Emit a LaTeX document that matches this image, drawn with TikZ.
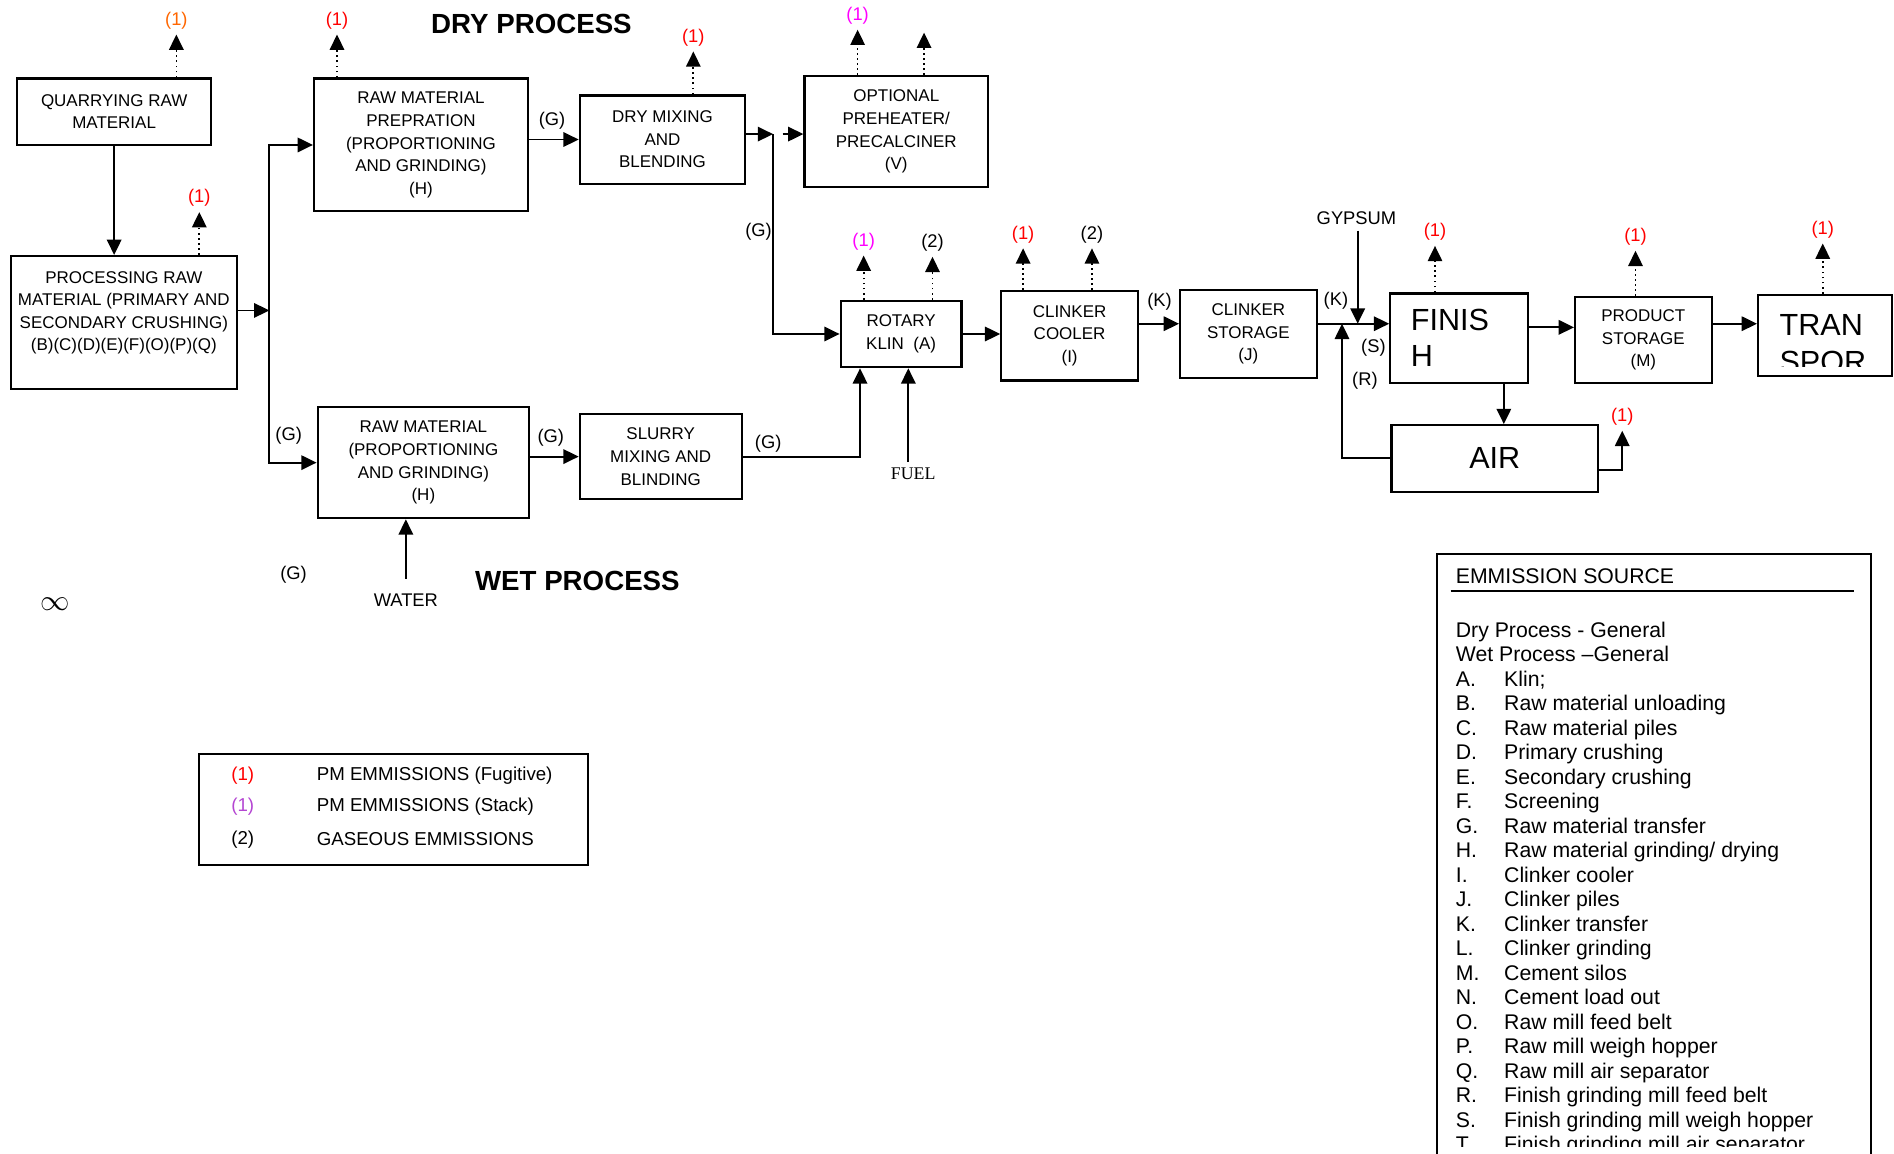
\documentclass[tikz,border=0pt]{standalone}
\usepackage{fontspec}
\setmainfont{Liberation Sans}
\newfontfamily\timesfont{Liberation Serif}
\usetikzlibrary{arrows.meta,calc}
\newcommand{\unitpx}{0.025cm}
\definecolor{fugitive}{RGB}{255,0,0}
\definecolor{quarryor}{RGB}{255,102,0}
\definecolor{stack}{RGB}{255,0,255}
\definecolor{stacklg}{RGB}{180,70,210}
\tikzset{
  box/.style={draw,line width=1.3pt,align=center,inner sep=2pt,font=\fontsize{10}{13.3}\selectfont},
  bigtext/.style={font=\fontsize{18}{21.3}\selectfont},
  lbl/.style={inner sep=3pt,font=\fontsize{10.8}{13}\selectfont},
  heading/.style={inner sep=0pt,font=\fontsize{16.3}{19}\selectfont\bfseries},
  flow/.style={line width=1.1pt,-{Triangle[length=9pt,width=8.5pt]}},
  emit/.style={line width=1pt,dotted,-{Triangle[length=9pt,width=8.5pt]}},
  legtext/.style={inner sep=0pt,font=\fontsize{11}{13}\selectfont},
  srctext/.style={inner sep=0pt,anchor=base west,font=\fontsize{12.5}{14.4}\selectfont},
}
\begin{document}
\begin{tikzpicture}[x=0.025cm,y=-0.025cm]
\clip (0,0) rectangle (1568,955);
% headings
\node[heading] (drytitle) at (440,20) {DRY PROCESS};
\node[heading] (wettitle) at (478,481) {WET PROCESS};
% process boxes
\node[box,minimum width=161*\unitpx,minimum height=55*\unitpx] (quarry) at (94.5,92.5) {QUARRYING RAW\\MATERIAL};
\node[box,minimum width=187*\unitpx,minimum height=110*\unitpx] (proc) at (102.5,267) {};
\node[box,draw=none] (proctext) at (102.5,259) {PROCESSING RAW\\MATERIAL (PRIMARY AND\\SECONDARY CRUSHING)\\(B)(C)(D)(E)(F)(O)(P)(Q)};
\node[box,minimum width=177*\unitpx,minimum height=110*\unitpx] (prep) at (348.5,120) {RAW MATERIAL\\PREPRATION\\(PROPORTIONING\\AND GRINDING)\\(H)};
\node[box,minimum width=137*\unitpx,minimum height=73*\unitpx] (drymix) at (548.5,115.5) {DRY MIXING\\AND\\BLENDING};
\node[box,minimum width=152*\unitpx,minimum height=92*\unitpx] (preheat) at (742,109) {OPTIONAL\\PREHEATER/\\PRECALCINER\\(V)};
\node[box,minimum width=100*\unitpx,minimum height=55*\unitpx] (kiln) at (746,276.5) {ROTARY\\KLIN\ \ (A)};
\node[box,minimum width=113*\unitpx,minimum height=74*\unitpx] (cooler) at (885.5,278) {CLINKER\\COOLER\\(I)};
\node[box,minimum width=113*\unitpx,minimum height=73*\unitpx] (clstore) at (1033.5,276.5) {CLINKER\\STORAGE\\(J)};
\node[box,bigtext,align=left,text width=80*\unitpx,minimum width=114*\unitpx,minimum height=74*\unitpx] (finish) at (1208,280) {FINIS\\H};
\node[box,minimum width=113*\unitpx,minimum height=71*\unitpx] (product) at (1360.5,281.5) {PRODUCT\\STORAGE\\(M)};
\node[box,minimum width=111*\unitpx,minimum height=67*\unitpx] (transp) at (1511,277.5) {};
\begin{scope}
  \clip (1456,245) rectangle (1566,303);
  \node[bigtext,anchor=base west,inner sep=0pt] (transtop) at (1473,278) {TRAN};
  \node[bigtext,anchor=base west,inner sep=0pt] (transbot) at (1473,308) {SPOR};
\end{scope}
\node[box,bigtext,minimum width=171*\unitpx,minimum height=55*\unitpx] (air) at (1237.5,379.5) {AIR};
\node[box,minimum width=175*\unitpx,minimum height=92*\unitpx] (wetraw) at (350.5,383) {RAW MATERIAL\\(PROPORTIONING\\AND GRINDING)\\(H)};
\node[box,minimum width=134*\unitpx,minimum height=70*\unitpx] (slurry) at (547,378) {SLURRY\\MIXING AND\\BLINDING};
% emissions
\foreach \n/\b/\x/\y/\c/\t in {eq/quarry/146/17/quarryor/1,ep/proc/165/164/fugitive/1,
  er/prep/279/17/fugitive/1,ed/drymix/574/31/fugitive/1,eh/preheat/710/13/stack/1,
  ek/kiln/715/200/stack/1,eg/kiln/772/201/black/2,ec/cooler/847/194/fugitive/1,
  ex/cooler/904/194/black/2,ef/finish/1188/192/fugitive/1,em/product/1354/196/fugitive/1,
  et/transp/1509/190/fugitive/1}{
  \node[lbl,text=\c] (\n) at (\x,\y) {(\t)};
  \draw[emit] (\b.north -| \n) -- (\n.south);
}
\coordinate (eh2) at (765,27);
\draw[emit] (preheat.north -| eh2) -- (eh2);
\node[lbl,text=fugitive] (ea) at (1343,345) {(1)};
\draw[flow] ([yshift=-9.5*\unitpx]air.east) -| (ea.south);
% raw material flow
\draw[flow] (quarry.south) -- (quarry.south |- proc.north);
\coordinate (split) at (223,257);
\draw[flow] (proc.east |- split) -- (split);
\draw[flow] (split) |- (prep.west);
\draw[flow] (split) |- (wetraw.west);
\draw[flow] (prep.east |- drymix.west) -- (drymix.west);
\coordinate (dsplit) at (640,111);
\draw[flow] (drymix.east |- dsplit) -- (dsplit);
\draw[flow] ([xshift=8*\unitpx]dsplit) -- (dsplit -| preheat.west);
\draw[flow] (dsplit) |- (kiln.west);
\draw[flow] (wetraw.east |- slurry.west) -- (slurry.west);
\draw[flow] (slurry.east) -| ([xshift=-34*\unitpx]kiln.south);
\node[lbl,font=\timesfont\fontsize{10.5}{12}\selectfont] (fuel) at (756,392) {FUEL};
\coordinate (fuelin) at ([xshift=6*\unitpx]kiln.south);
\draw[flow] (fuelin |- fuel.north) -- (fuelin);
\node[lbl] (water) at (336,497) {WATER};
\draw[flow] ([yshift=8*\unitpx]water.north) -- (water.north |- wetraw.south);
% clinker and cement
\draw[flow] (kiln.east) -- (kiln.east -| cooler.west);
\coordinate (kline) at (960,268);
\draw[flow] (cooler.east |- kline) -- (clstore.west |- kline);
\draw[flow] (clstore.east |- kline) -- (finish.west |- kline);
\node[lbl] (gyp) at (1123,181) {GYPSUM};
\coordinate (gypin) at (1124,268);
\draw[flow] (gyp.south -| gypin) -- (gypin);
\coordinate (recyc) at (1111,268);
\draw[flow] (air.west) -| (recyc);
\coordinate (fsplit) at (1245,0);
\draw[flow] (finish.south -| fsplit) -- (air.north -| fsplit);
\draw[flow] ([yshift=9*\unitpx]finish.east) -- ([yshift=9*\unitpx]finish.east -| product.west);
\draw[flow] ([yshift=13.5*\unitpx]product.east) -- ([yshift=13.5*\unitpx]product.east -| transp.west);
% transfer labels
\foreach \n/\x/\y/\t in {g1/239/361/G,g2/243/476/G,g3/457/100/G,g4/628/192/G,g5/456/362/G,
  g6/636/367/G,k1/960/250/K,k2/1106/249/K,s1/1137/288/S,r1/1130/315/R}{
  \node[lbl] (\n) at (\x,\y) {(\t)};
}
\node[inner sep=0pt,font=\fontsize{17}{19}\selectfont] (inf) at (46,500) {$\infty$};
% legend
\node[draw,line width=1.1pt,minimum width=322*\unitpx,minimum height=92*\unitpx] (legend) at (326,670) {};
\foreach \c/\t/\d/\y in {fugitive/1/PM EMMISSIONS (Fugitive)/642,stacklg/1/PM EMMISSIONS (Stack)/668,
  black/2/GASEOUS EMMISSIONS/695}{
  \node[legtext,text=\c] (lm\y) at (201,\y) {(\t)};
  \node[legtext,anchor=west] (lt\y) at (262,\y) {\d};
}
% emission sources
\node[draw,line width=1.1pt,minimum width=359*\unitpx,minimum height=540*\unitpx,anchor=north west] (srcbox) at (1189,458) {};
\node[srctext] (srctitle) at (1205,483) {EMMISSION SOURCE};
\draw[line width=1pt] (1201,489) -- (1535,489);
\begin{scope}
  \clip (1190,495) rectangle (1547,949);
  \node[srctext] (drygen) at (1205,527.4) {Dry Process - General};
  \node[srctext] (wetgen) at (1205,547.7) {Wet Process \textendash General};
  \foreach \l/\t [count=\i from 2] in {A/{Klin;},B/Raw material unloading,C/Raw material piles,
    D/Primary crushing,E/Secondary crushing,F/Screening,G/Raw material transfer,
    H/Raw material grinding\slash\ drying,I/Clinker cooler,J/Clinker piles,K/Clinker transfer,
    L/Clinker grinding,M/Cement silos,N/Cement load out,O/Raw mill feed belt,
    P/Raw mill weigh hopper,Q/Raw mill air separator,R/Finish grinding mill feed belt,
    S/Finish grinding mill weigh hopper,T/Finish grinding mill air separator}{
    \node[srctext] (src\l) at (1205,{527.4+20.3*\i}) {\l.};
    \node[srctext] (srct\l) at (1245,{527.4+20.3*\i}) {\t};
  }
\end{scope}
\end{tikzpicture}
\end{document}
